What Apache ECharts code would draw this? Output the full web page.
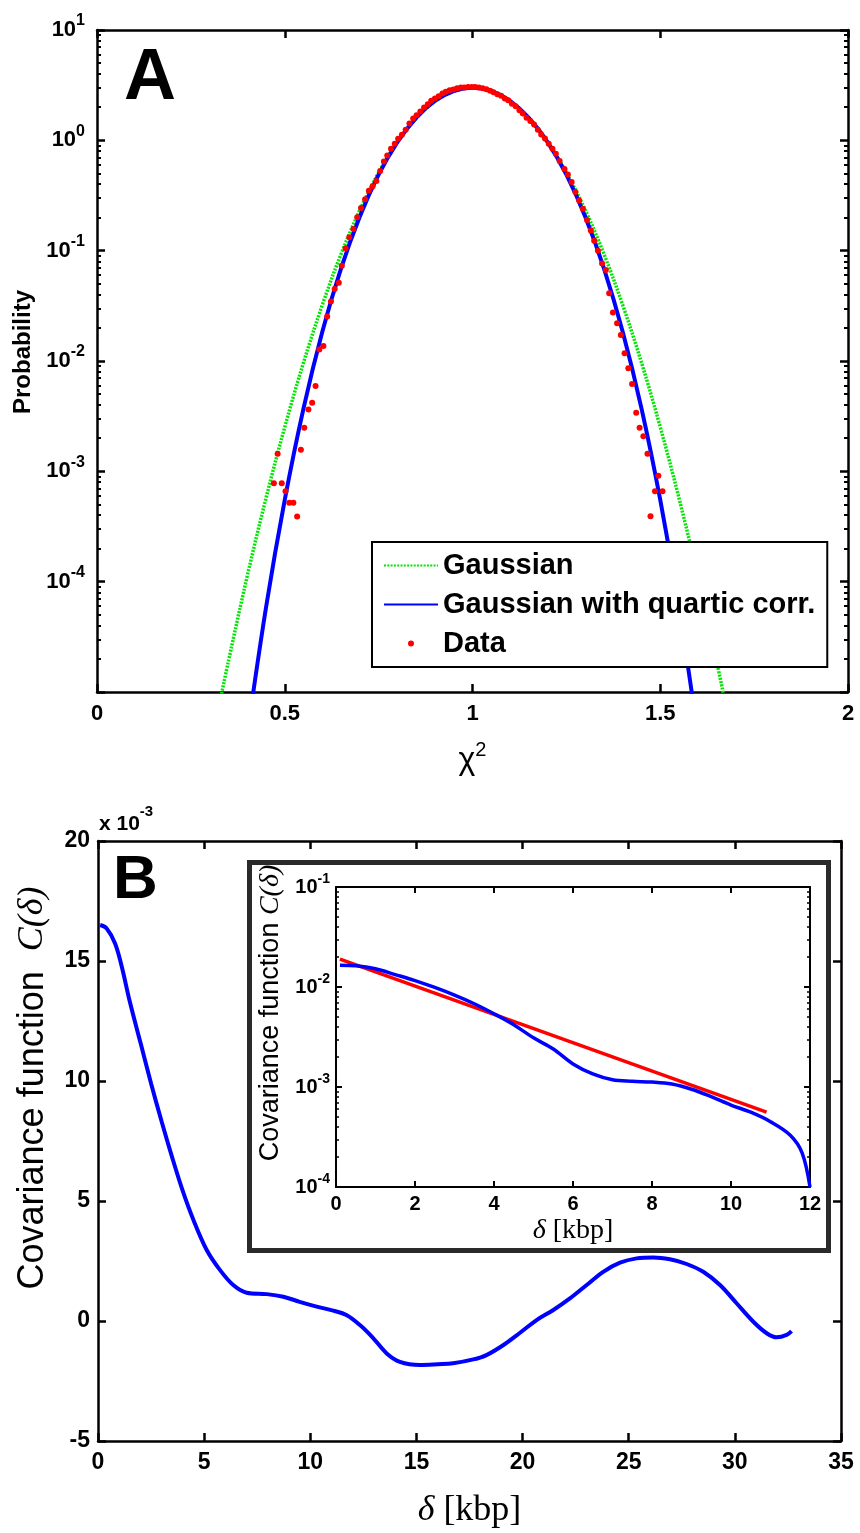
<!DOCTYPE html>
<html>
<head>
<meta charset="utf-8">
<script src="https://cdn.jsdelivr.net/npm/echarts@6/dist/echarts.min.js"></script>
<style>
html, body { margin: 0; padding: 0; background: #fff; }
#chart { width: 860px; height: 1533px; }
</style>
</head>
<body>
<div id="chart"></div>
<script>
var SANS = 'Liberation Sans, Arial, Helvetica, sans-serif';
var SERIF = 'Liberation Serif, Times New Roman, DejaVu Serif, serif';

// panel A: chi^2 distribution (log y)
var gaussX = [0.33, 0.35, 0.40, 0.45, 0.50, 0.55, 0.60, 0.65, 0.70, 0.75, 0.80, 0.85, 0.90, 0.95, 1.00,
    1.05, 1.10, 1.15, 1.20, 1.25, 1.30, 1.35, 1.40, 1.45, 1.50, 1.55, 1.60, 1.65, 1.67];
var gaussY = [9e-6, 1.9e-5, 1.12e-4, 5.7e-4, 2.52e-3, 9.68e-3, 0.0322, 0.0933, 0.234, 0.511, 0.966, 1.586, 2.26, 2.795, 3.0,
    2.795, 2.26, 1.586, 0.966, 0.511, 0.234, 0.0933, 0.0322, 9.68e-3, 2.52e-3, 5.7e-4, 1.12e-4, 1.9e-5, 9e-6];
var quartX = [0.40, 0.45, 0.50, 0.55, 0.60, 0.65, 0.70, 0.75, 0.80, 0.85, 0.90, 0.95, 1.00,
    1.05, 1.10, 1.15, 1.20, 1.25, 1.30, 1.35, 1.40, 1.45, 1.50, 1.55, 1.60];
var quartY = [4.1e-6, 5.8e-5, 5.5e-4, 3.72e-3, 0.0184, 0.0692, 0.204, 0.488, 0.962, 1.60, 2.28, 2.80, 3.0,
    2.80, 2.28, 1.60, 0.962, 0.488, 0.204, 0.0692, 0.0184, 3.72e-3, 5.5e-4, 5.8e-5, 4.1e-6];
var dataX = [0.471, 0.481, 0.492, 0.502, 0.512, 0.523, 0.533, 0.543, 0.552, 0.563, 0.573, 0.582, 0.592, 0.603,
    0.613, 0.623, 0.633, 0.644, 0.652, 0.662, 0.672, 0.683, 0.693, 0.703, 0.714, 0.724, 0.734, 0.744, 0.754,
    0.764, 0.773, 0.783, 0.793, 0.802, 0.812, 0.822, 0.832, 0.842, 0.851, 0.861, 0.871, 0.881, 0.890, 0.900,
    0.910, 0.920, 0.929, 0.939, 0.949, 0.959, 0.969, 0.978, 0.988, 0.998, 1.007, 1.017, 1.027, 1.037, 1.047,
    1.056, 1.066, 1.076, 1.086, 1.095, 1.105, 1.115, 1.125, 1.134, 1.144, 1.154, 1.164, 1.174, 1.183, 1.193,
    1.203, 1.213, 1.222, 1.232, 1.245, 1.254, 1.264, 1.274, 1.284, 1.294, 1.305, 1.315, 1.324, 1.334, 1.345,
    1.355, 1.364, 1.374, 1.385, 1.395, 1.405, 1.415, 1.425, 1.436, 1.445, 1.455, 1.466, 1.474, 1.486, 1.495, 1.506];
var dataY = [7.8e-4, 1.44e-3, 7.8e-4, 6.6e-4, 5.2e-4, 5.2e-4, 3.9e-4, 1.57e-3, 2.48e-3, 3.63e-3, 4.18e-3, 5.93e-3,
    0.0127, 0.0137, 0.0253, 0.0346, 0.0449, 0.0512, 0.0731, 0.105, 0.132, 0.157, 0.201, 0.243, 0.293, 0.349,
    0.384, 0.427, 0.526, 0.644, 0.73, 0.84, 0.933, 1.036, 1.126, 1.25, 1.42, 1.575, 1.69, 1.83, 1.98, 2.12,
    2.28, 2.39, 2.51, 2.66, 2.75, 2.85, 2.89, 2.97, 3.01, 3.01, 3.05, 3.05, 3.05, 3.01, 2.97, 2.91, 2.81, 2.73,
    2.62, 2.53, 2.39, 2.31, 2.15, 2.04, 1.87, 1.75, 1.60, 1.50, 1.39, 1.25, 1.13, 1.04, 0.933, 0.84, 0.757,
    0.648, 0.55, 0.49, 0.42, 0.34, 0.285, 0.24, 0.19, 0.152, 0.123, 0.1, 0.0767, 0.0667, 0.0412, 0.0275,
    0.022, 0.0172, 0.01175, 0.00859, 0.00618, 0.00339, 0.00248, 0.00208, 0.00144, 3.92e-4, 6.6e-4, 9.1e-4, 6.6e-4];
var aYLabels = [1e-4, 1e-3, 1e-2, 1e-1, 1, 10];
var aYTicks = [1e-5, 1e-4, 1e-3, 1e-2, 1e-1, 1, 10];

// panel B: covariance function (units of 1e-3)
var covX = [0.1, 0.4, 0.8, 1.12, 1.5, 2, 2.5, 3, 3.5, 4, 4.5, 5.12, 5.75, 6.37, 7.0, 7.95, 8.73, 9.5, 10.3,
    11.08, 11.7, 12.34, 12.97, 13.6, 14.22, 15.17, 16.0, 16.73, 17.68, 18.3, 19.1, 19.88, 20.66, 21.45, 22.23,
    23.02, 23.8, 24.59, 25.37, 26.16, 26.94, 27.73, 28.51, 29.3, 30.08, 30.87, 31.5, 31.97, 32.44, 32.67];
var covY = [16.5, 16.36, 15.74, 14.76, 13.3, 11.6, 9.9, 8.3, 6.8, 5.4, 4.2, 2.96, 2.12, 1.5, 1.18, 1.12, 1.01,
    0.8, 0.6, 0.43, 0.25, -0.17, -0.72, -1.35, -1.7, -1.83, -1.8, -1.76, -1.6, -1.42, -1.0, -0.49, 0.04, 0.46,
    0.94, 1.5, 2.05, 2.43, 2.61, 2.65, 2.57, 2.375, 2.05, 1.5, 0.74, -0.03, -0.51, -0.68, -0.58, -0.42];

// inset: same function on log scale plus exponential fit
var insetX = [0.1, 0.5, 1, 1.5, 2, 2.5, 3, 3.5, 4, 4.5, 5, 5.5, 6, 6.5, 7, 7.5, 8, 8.5, 9, 9.5, 10, 10.5,
    11, 11.5, 11.8, 12];
var insetY = [0.0165, 0.0163, 0.0152, 0.0133, 0.0116, 0.0099, 0.0083, 0.0068, 0.0054, 0.0042, 0.0031, 0.0024,
    0.0017, 0.00135, 0.00118, 0.00114, 0.00112, 0.00107, 0.00095, 0.0008, 0.00066, 0.00056, 0.00045, 0.00033,
    0.00022, 0.0001];
var fitX = [0.1, 10.9];
var fitY = [0.019, 5.6e-4];
var inYLabels = [1e-4, 1e-3, 1e-2, 1e-1];

function zip(xs, ys) {
    return xs.map(function (x, i) { return [x, ys[i]]; });
}

function minorTicks(lo, hi) {
    var out = [];
    for (var e = lo; e < hi; e++) {
        for (var k = 2; k < 10; k++) out.push(k * Math.pow(10, e));
    }
    return out;
}

function powLabel(v) {
    var e = Math.round(Math.log(v) / Math.LN10);
    return '{b|10}{s|' + e + '}';
}

function powRich(fs, sfs, lh) {
    return {
        b: {fontSize: fs, fontWeight: 'bold', fontFamily: SANS, color: '#000', lineHeight: lh, verticalAlign: 'middle'},
        s: {fontSize: sfs, fontWeight: 'bold', fontFamily: SANS, color: '#000', lineHeight: sfs, verticalAlign: 'top'}
    };
}

function linAxis(grid, min, max, step, pos, showLabel, fs, lw, tl) {
    return {
        type: 'value', gridIndex: grid, position: pos, min: min, max: max, interval: step,
        axisLine: {show: true, onZero: false, lineStyle: {color: '#000', width: lw}},
        axisTick: {show: true, inside: true, length: tl, lineStyle: {color: '#000', width: lw}},
        axisLabel: {show: showLabel, fontSize: fs, fontWeight: 'bold', color: '#000', fontFamily: SANS,
            margin: 9, hideOverlap: false},
        splitLine: {show: false}
    };
}

function logAxis(grid, min, max, pos, ticks, tl, lw, showLine) {
    return {
        type: 'log', logBase: 10, gridIndex: grid, position: pos, min: min, max: max,
        axisLine: {show: showLine, onZero: false, lineStyle: {color: '#000', width: lw}},
        axisTick: {show: true, inside: true, length: tl, customValues: ticks, lineStyle: {color: '#000', width: lw}},
        axisLabel: {show: false},
        splitLine: {show: false}
    };
}

var chart = echarts.init(document.getElementById('chart'));

// x axes
var xA = linAxis(0, 0, 2, 0.5, 'bottom', true, 22, 2.5, 8);
xA.axisLabel.margin = 11;
xA.name = '{c|χ}{s|2}';
xA.nameLocation = 'middle';
xA.nameGap = 48;
xA.nameTextStyle = {rich: {
    c: {fontSize: 32, fontFamily: SANS, color: '#000', lineHeight: 40, verticalAlign: 'middle'},
    s: {fontSize: 20, fontFamily: SANS, color: '#000', lineHeight: 20, verticalAlign: 'top'}
}};
var xATop = linAxis(0, 0, 2, 0.5, 'top', false, 22, 2.5, 8);

var xB = linAxis(1, 0, 35, 5, 'bottom', true, 23, 2.5, 8);
xB.axisLabel.margin = 10;
xB.name = '{d|δ }{k|[kbp]}';
xB.nameLocation = 'middle';
xB.nameGap = 52;
xB.nameTextStyle = {rich: {
    d: {fontSize: 36, fontFamily: SERIF, fontStyle: 'italic', color: '#000'},
    k: {fontSize: 36, fontFamily: SERIF, color: '#000'}
}};
var xBTop = linAxis(1, 0, 35, 5, 'top', false, 23, 2.5, 8);

var xI = linAxis(2, 0, 12, 2, 'bottom', true, 20, 2, 6);
xI.axisLabel.margin = 7;
xI.name = '{d|δ }{k|[kbp]}';
xI.nameLocation = 'middle';
xI.nameGap = 30;
xI.nameTextStyle = {rich: {
    d: {fontSize: 28, fontFamily: SERIF, fontStyle: 'italic', color: '#000'},
    k: {fontSize: 28, fontFamily: SERIF, color: '#000'}
}};
var xITop = linAxis(2, 0, 12, 2, 'top', false, 20, 2, 6);

// y axes
var yA = logAxis(0, 1e-5, 10, 'left', aYTicks, 8, 2.5, true);
yA.axisLabel = {show: true, customValues: aYLabels, formatter: powLabel, margin: 12,
    rich: powRich(22, 16, 34), hideOverlap: false};
yA.name = 'Probability';
yA.nameLocation = 'middle';
yA.nameRotate = 90;
yA.nameGap = 60;
yA.nameTextStyle = {fontSize: 24, fontWeight: 'bold', fontFamily: SANS, color: '#000', padding: [0, 0, 0, 18]};
var yAMinor = logAxis(0, 1e-5, 10, 'left', minorTicks(-5, 1), 4, 2, false);
var yARight = logAxis(0, 1e-5, 10, 'right', aYTicks, 8, 2.5, true);
var yARightMinor = logAxis(0, 1e-5, 10, 'right', minorTicks(-5, 1), 4, 2, false);

var yB = linAxis(1, -5, 20, 5, 'left', true, 23, 2.5, 8);
yB.axisLabel.margin = 8;
yB.name = '{a|Covariance function  }{m|C(δ)}';
yB.nameLocation = 'middle';
yB.nameRotate = 90;
yB.nameGap = 47;
yB.nameTextStyle = {padding: [0, 0, 0, 106], rich: {
    a: {fontSize: 36, fontFamily: SANS, color: '#000'},
    m: {fontSize: 36, fontFamily: SERIF, fontStyle: 'italic', color: '#000'}
}};
var yBRight = linAxis(1, -5, 20, 5, 'right', false, 23, 2.5, 8);

var yI = logAxis(2, 1e-4, 0.1, 'left', inYLabels, 6, 2, true);
yI.axisLabel = {show: true, customValues: inYLabels, formatter: powLabel, margin: 6,
    rich: powRich(20, 14, 30), hideOverlap: false};
yI.name = '{a|Covariance function }{m|C(δ)}';
yI.nameLocation = 'middle';
yI.nameRotate = 90;
yI.nameGap = 42;
yI.nameTextStyle = {padding: [0, 0, 0, 48], rich: {
    a: {fontSize: 27, fontFamily: SANS, color: '#000'},
    m: {fontSize: 28, fontFamily: SERIF, fontStyle: 'italic', color: '#000'}
}};
var yIMinor = logAxis(2, 1e-4, 0.1, 'left', minorTicks(-4, -1), 3, 1.5, false);
var yIRight = logAxis(2, 1e-4, 0.1, 'right', inYLabels, 6, 2, true);
var yIRightMinor = logAxis(2, 1e-4, 0.1, 'right', minorTicks(-4, -1), 3, 1.5, false);

var hideDot = {color: 'rgba(0,0,0,0)', opacity: 0};

var option = {
    animation: false,
    backgroundColor: '#fff',
    textStyle: {fontFamily: SANS},
    title: [
        {text: 'A', left: 124, top: 43, padding: 0,
            textStyle: {fontSize: 72, fontWeight: 'bold', fontFamily: SANS, color: '#000'}},
        {text: 'B', left: 113, top: 850, padding: 0,
            textStyle: {fontSize: 62, fontWeight: 'bold', fontFamily: SANS, color: '#000'}},
        {text: '{a|x 10}{s|-3}', left: 99, top: 804, padding: 0,
            textStyle: {rich: {
                a: {fontSize: 21, fontWeight: 'bold', fontFamily: SANS, color: '#000', lineHeight: 41, verticalAlign: 'middle'},
                s: {fontSize: 15, fontWeight: 'bold', fontFamily: SANS, color: '#000', lineHeight: 15, verticalAlign: 'top'}
            }}}
    ],
    grid: [
        {left: 97, top: 30, width: 751, height: 662, outerBoundsMode: 'none', containLabel: false},
        {left: 98, top: 841, width: 743, height: 600, outerBoundsMode: 'none', containLabel: false},
        {left: 336, top: 887, width: 474, height: 300, outerBoundsMode: 'none', containLabel: false}
    ],
    graphic: {
        elements: [{
            type: 'rect', left: 247, top: 860, z: -10,
            shape: {width: 579, height: 388},
            style: {fill: '#fff', stroke: '#2a2a2a', lineWidth: 5}
        }]
    },
    legend: {
        data: [
            {name: 'Gaussian', itemStyle: hideDot},
            {name: 'Gaussian with quartic corr.', itemStyle: hideDot},
            {name: 'Data', icon: 'circle'}
        ],
        orient: 'vertical', left: 372, top: 542,
        padding: [8, 12, 8, 11], itemGap: 8, itemWidth: 54, itemHeight: 6,
        borderColor: '#000', borderWidth: 2, borderRadius: 0, backgroundColor: '#fff',
        selectedMode: false,
        textStyle: {fontSize: 29, fontWeight: 'bold', fontFamily: SANS, color: '#000', lineHeight: 31}
    },
    xAxis: [xA, xATop, xB, xBTop, xI, xITop],
    yAxis: [yA, yAMinor, yARight, yARightMinor, yB, yBRight, yI, yIMinor, yIRight, yIRightMinor],
    series: [
        {
            name: 'Gaussian', type: 'line', xAxisIndex: 0, yAxisIndex: 0,
            data: zip(gaussX, gaussY), smooth: 0.35, symbol: 'none',
            lineStyle: {color: '#00e600', width: 3.5, type: [2, 1.3]}, itemStyle: {color: '#00e600'}, z: 2
        },
        {
            name: 'Gaussian with quartic corr.', type: 'line', xAxisIndex: 0, yAxisIndex: 0,
            data: zip(quartX, quartY), smooth: 0.35, symbol: 'none',
            lineStyle: {color: '#0000ff', width: 4}, itemStyle: {color: '#0000ff'}, z: 3
        },
        {
            name: 'Data', type: 'scatter', xAxisIndex: 0, yAxisIndex: 0,
            data: zip(dataX, dataY), symbol: 'circle', symbolSize: 6,
            itemStyle: {color: '#ff0000', opacity: 1}, z: 4
        },
        {
            name: 'C', type: 'line', xAxisIndex: 2, yAxisIndex: 4,
            data: zip(covX, covY), smooth: 0.35, symbol: 'none',
            lineStyle: {color: '#0000ff', width: 4}
        },
        {
            name: 'fit', type: 'line', xAxisIndex: 4, yAxisIndex: 6,
            data: zip(fitX, fitY), symbol: 'none',
            lineStyle: {color: '#ff0000', width: 3.5}, z: 3
        },
        {
            name: 'C inset', type: 'line', xAxisIndex: 4, yAxisIndex: 6,
            data: zip(insetX, insetY), smooth: 0.35, symbol: 'none',
            lineStyle: {color: '#0000ff', width: 3.5}, z: 4
        }
    ]
};

chart.setOption(option);
</script>
</body>
</html>
